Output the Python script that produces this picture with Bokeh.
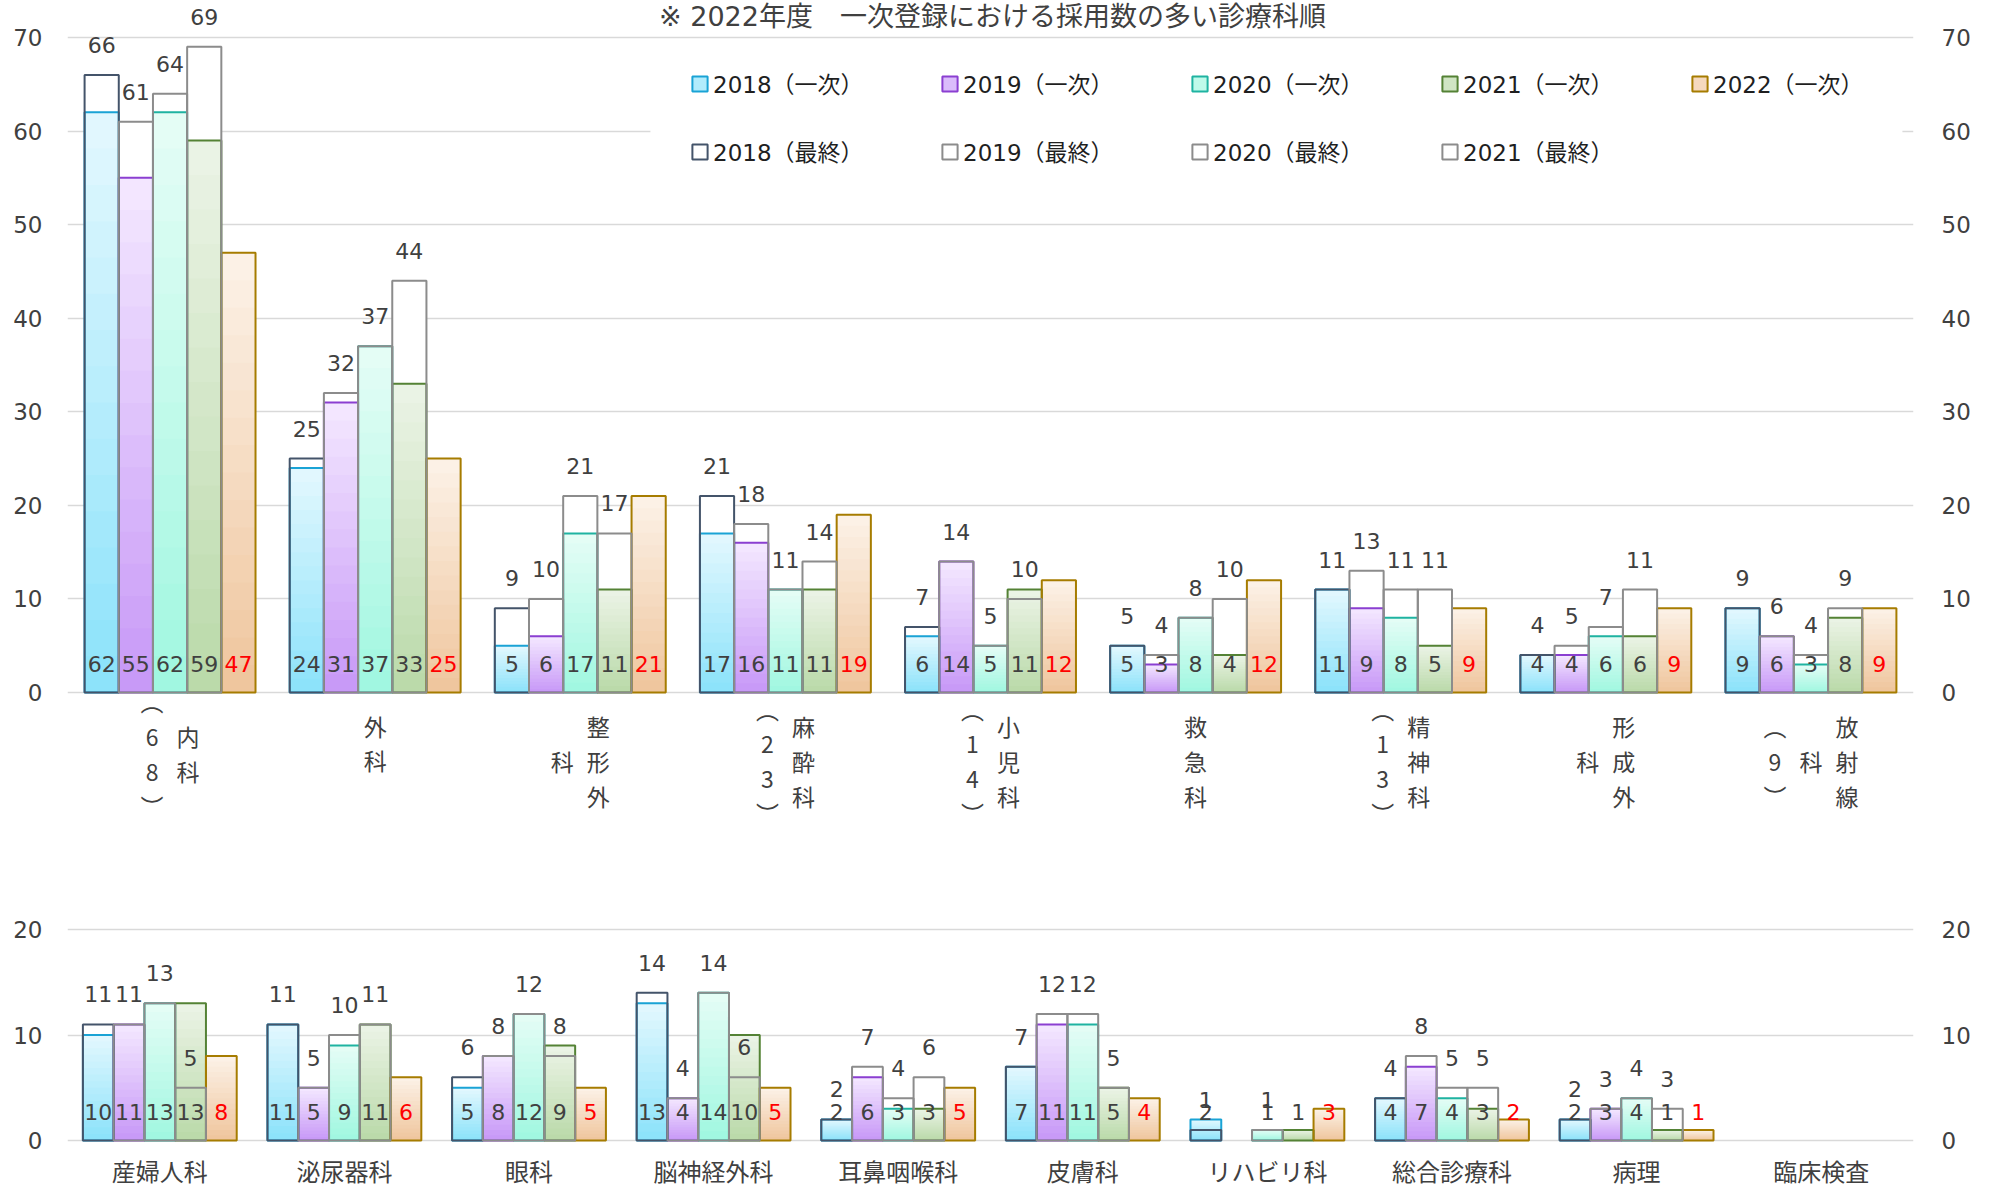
import numpy as np
from bokeh.plotting import figure
from bokeh.models import (ColumnDataSource, Range1d, FixedTicker, LabelSet, Label,
                          Legend, LegendItem, BoxAnnotation, LinearAxis)
from bokeh.layouts import column
from bokeh.core.properties import value, field
from bokeh.embed import file_html
from bokeh.resources import INLINE

# ---------------- data ----------------
TITLE = "※ 2022年度　一次登録における採用数の多い診療科順"
FIRST_LABELS = ["2018（一次）", "2019（一次）", "2020（一次）", "2021（一次）", "2022（一次）"]
FINAL_LABELS = ["2018（最終）", "2019（最終）", "2020（最終）", "2021（最終）"]

top_categories = ["内科（68）", "外科", "整形外科", "麻酔科（23）", "小児科（14）",
                  "救急科", "精神科（13）", "形成外科", "放射線科（9）"]
top_first_2018 = [62, 24, 5, 17, 6, 5, 11, 4, 9]
top_first_2019 = [55, 31, 6, 16, 14, 3, 9, 4, 6]
top_first_2020 = [62, 37, 17, 11, 5, 8, 8, 6, 3]
top_first_2021 = [59, 33, 11, 11, 11, 4, 5, 6, 8]
top_first_2022 = [47, 25, 21, 19, 12, 12, 9, 9, 9]
top_final_2018 = [66, 25, 9, 21, 7, 5, 11, 4, 9]
top_final_2019 = [61, 32, 10, 18, 14, 4, 13, 5, 6]
top_final_2020 = [64, 37, 21, 11, 5, 8, 11, 7, 4]
top_final_2021 = [69, 44, 17, 14, 10, 10, 11, 11, 9]
top_ticks = [0, 10, 20, 30, 40, 50, 60, 70]

bottom_categories = ["産婦人科", "泌尿器科", "眼科", "脳神経外科", "耳鼻咽喉科",
                     "皮膚科", "リハビリ科", "総合診療科", "病理", "臨床検査"]
bottom_first_2018 = [10, 11, 5, 13, 2, 7, 2, 4, 2, None]
bottom_first_2019 = [11, 5, 8, 4, 6, 11, None, 7, 3, None]
bottom_first_2020 = [13, 9, 12, 14, 3, 11, 1, 4, 4, None]
bottom_first_2021 = [13, 11, 9, 10, 3, 5, 1, 3, 1, None]
bottom_first_2022 = [8, 6, 5, 5, 5, 4, 3, 2, 1, None]
bottom_final_2018 = [11, 11, 6, 14, 2, 7, 1, 4, 2, None]
bottom_final_2019 = [11, 5, 8, 4, 7, 12, None, 8, 3, None]
bottom_final_2020 = [13, 10, 12, 14, 4, 12, 1, 5, 4, None]
bottom_final_2021 = [5, 11, 8, 6, 6, 5, None, 5, 3, None]
bottom_ticks = [0, 10, 20]

# ---------------- styles ----------------
NUM_FONT = "DejaVu Sans"
MIX_FONT = "DejaVu Sans, Noto Sans CJK JP"
CJK_FONT = "Noto Sans CJK JP"
BAR_BOTTOM = ["#8ae2fa", "#c797f7", "#9ff7e0", "#b9d9a8", "#efc59c"]
BAR_TOP = ["#e4f8fe", "#f4e9ff", "#e6fdf6", "#ecf4e7", "#fcf2e8"]
FIRST_EDGE = ["#1aa3d5", "#8b3fd1", "#1fb3a1", "#548235", "#a67c00"]
FINAL_EDGE = ["#44546a", "#8c8c8c", "#8c8c8c", "#8c8c8c"]
GRID = "#d9d9d9"
TXT = "#404040"
BAR_W = 1.0 / 6
NSEG = 16
ROW = 35.5               # wanted pitch of the stacked vertical characters
LINE_UNIT = 34.7         # line pitch of a 23px CJK line at line height 1.0
COLPITCH = 36.0 / 205.1
TOP_PPU = 655.0 / 70      # pixels per unit, top chart
BOT_PPU = 211.0 / 20      # pixels per unit, bottom chart


def mix(c1, c2, t):
    a = [int(c1[i:i + 2], 16) for i in (1, 3, 5)]
    b = [int(c2[i:i + 2], 16) for i in (1, 3, 5)]
    return "#%02x%02x%02x" % tuple(int(round(a[k] + (b[k] - a[k]) * t)) for k in range(3))


def make_fig(ncat, ticks, height, px_top, px_bottom, ppu):
    # the frame spans the whole canvas height so that labels outside the value
    # range (category names, title, labels above bars) are not clipped
    p = figure(width=1974, height=height, x_range=Range1d(-0.5, ncat - 0.5),
               y_range=Range1d(ticks[0] - px_bottom / ppu, ticks[-1] + px_top / ppu),
               output_backend="svg", toolbar_location=None, x_axis_location=None,
               min_border_left=67, min_border_right=61,
               min_border_top=0, min_border_bottom=0,
               background_fill_color="white", border_fill_color="white")
    p.outline_line_color = None
    p.xgrid.visible = False
    p.ygrid.ticker = FixedTicker(ticks=ticks)
    p.ygrid.grid_line_color = GRID
    p.ygrid.grid_line_width = 1.5
    right = LinearAxis()
    p.add_layout(right, "right")
    for ax, st in ((p.yaxis[0], 25), (right, 28)):
        ax.ticker = FixedTicker(ticks=ticks)
        ax.axis_line_color = None
        ax.major_tick_line_color = None
        ax.minor_tick_line_color = None
        ax.major_tick_out = 0
        ax.major_tick_in = 0
        ax.major_label_standoff = st
        ax.major_label_text_font = NUM_FONT
        ax.major_label_text_font_size = "23px"
        ax.major_label_text_color = TXT
    return p


def clean(vals, j):
    xs, vs = [], []
    for i, v in enumerate(vals):
        if v is not None:
            xs.append(i + (j - 2) * BAR_W)
            vs.append(v)
    return xs, vs


def draw_bars(p, first_series, final_series):
    final_srcs = []
    for j, vals in enumerate(final_series):
        xs, vs = clean(vals, j)
        src = ColumnDataSource(dict(x=xs, top=vs, txt=[str(v) for v in vs]))
        final_srcs.append(src)
        p.vbar(x="x", top="top", width=BAR_W, source=src, fill_color="white", line_color=None)
    gx, gt, gc = [], [], []
    for j, vals in enumerate(first_series):
        xs, vs = clean(vals, j)
        for x, v in zip(xs, vs):
            for k in range(NSEG):
                gx.append(x)
                gt.append(v * (NSEG - k) / NSEG)
                gc.append(mix(BAR_BOTTOM[j], BAR_TOP[j], (NSEG - k - 0.5) / NSEG))
    p.vbar(x=gx, top=gt, width=BAR_W, fill_color=gc, line_color=None)
    first_srcs = []
    for j, vals in enumerate(first_series):
        xs, vs = clean(vals, j)
        col = "#ff0000" if j == 4 else TXT
        src = ColumnDataSource(dict(x=xs, top=vs, txt=[str(v) for v in vs], color=[col] * len(vs)))
        first_srcs.append(src)
        p.vbar(x="x", top="top", width=BAR_W, source=src, fill_color=None,
               line_color=FIRST_EDGE[j], line_width=2)
    for j, src in enumerate(final_srcs):
        p.vbar(x="x", top="top", width=BAR_W, source=src, fill_color=None,
               line_color=FINAL_EDGE[j], line_width=2)
    for src in final_srcs:
        p.add_layout(LabelSet(x="x", y="top", text="txt", source=src, y_offset=30,
                              text_align="center", text_baseline="middle",
                              text_font=value(NUM_FONT), text_font_size="22px", text_color=TXT))
    for src in first_srcs:
        p.add_layout(LabelSet(x="x", y=0, text="txt", source=src, y_offset=29,
                              text_align="center", text_baseline="middle",
                              text_font=value(NUM_FONT), text_font_size="22px",
                              text_color=field("color")))


VERT = str.maketrans({"（": "︵", "）": "︶"})


def vertical_columns(name):
    if "（" in name:
        main, rest = name.split("（", 1)
        paren = "（" + rest
    else:
        main, paren = name, ""
    cols = [main[k:k + 3] for k in range(0, len(main), 3)]
    if paren:
        cols.append(paren)
    return cols


def col_weight(col):
    return sum(0.3 if ch in "（）" else 1.0 for ch in col)


# ---------------- top chart ----------------
p1 = make_fig(len(top_categories), top_ticks, 868, 37, 176, TOP_PPU)
draw_bars(p1,
          [top_first_2018, top_first_2019, top_first_2020, top_first_2021, top_first_2022],
          [top_final_2018, top_final_2019, top_final_2020, top_final_2021])

for i, name in enumerate(top_categories):
    cols = vertical_columns(name)
    H = max(col_weight(c) for c in cols)
    below = 15 + H * ROW / 2
    n = len(cols)
    for j, c in enumerate(cols):
        p1.add_layout(Label(x=i + ((n - 1) / 2 - j) * COLPITCH, y=-below / TOP_PPU,
                            text="\n".join(c.translate(VERT)), text_align="center",
                            text_baseline="middle", text_font=CJK_FONT,
                            text_font_size="23px", text_line_height=ROW / LINE_UNIT,
                            text_color=TXT))

# white legend background covering the 60 gridline
p1.add_layout(BoxAnnotation(left=2.342, right=8.446, bottom=54.2, top=68.6,
                            fill_color="white", fill_alpha=1.0, line_color=None))

items1, items2 = [], []
for j, lab in enumerate(FIRST_LABELS):
    r = p1.vbar(x=np.array([np.nan]), top=np.array([np.nan]), width=BAR_W,
                fill_color=mix(BAR_BOTTOM[j], BAR_TOP[j], 0.45),
                line_color=FIRST_EDGE[j], line_width=2)
    items1.append(LegendItem(label=lab, renderers=[r]))
for j, lab in enumerate(FINAL_LABELS):
    r = p1.vbar(x=np.array([np.nan]), top=np.array([np.nan]), width=BAR_W,
                fill_color="white", line_color=FINAL_EDGE[j], line_width=2)
    items2.append(LegendItem(label=lab, renderers=[r]))


def make_legend(items, yloc):
    return Legend(items=items, orientation="horizontal", location=(623, yloc),
                  spacing=27, padding=0, margin=0, glyph_width=19, glyph_height=19,
                  label_height=19, label_width=200, label_standoff=4,
                  label_text_font=MIX_FONT, label_text_font_size="23px",
                  label_text_color="#1f1f1f", background_fill_alpha=0,
                  border_line_alpha=0)


# frame bottom is the canvas bottom (176 px below the zero line)
p1.add_layout(make_legend(items1, 592 + 176))
p1.add_layout(make_legend(items2, 524 + 176))

p1.add_layout(Label(x=-0.5 + (992 - 67) / 205.11, y=70 + (37 - 16) / TOP_PPU, text=TITLE,
                    text_align="center", text_baseline="middle",
                    text_font=MIX_FONT, text_font_size="27px", text_color=TXT))

# ---------------- bottom chart ----------------
p2 = make_fig(len(bottom_categories), bottom_ticks, 319, 61, 47, BOT_PPU)
draw_bars(p2,
          [bottom_first_2018, bottom_first_2019, bottom_first_2020, bottom_first_2021, bottom_first_2022],
          [bottom_final_2018, bottom_final_2019, bottom_final_2020, bottom_final_2021])
for i, name in enumerate(bottom_categories):
    p2.add_layout(Label(x=i, y=-30 / BOT_PPU, text=name, text_align="center",
                        text_baseline="middle", text_font=CJK_FONT,
                        text_font_size="24px", text_color=TXT))

layout = column(p1, p2)
open("out.html", "w").write(file_html(layout, INLINE))
